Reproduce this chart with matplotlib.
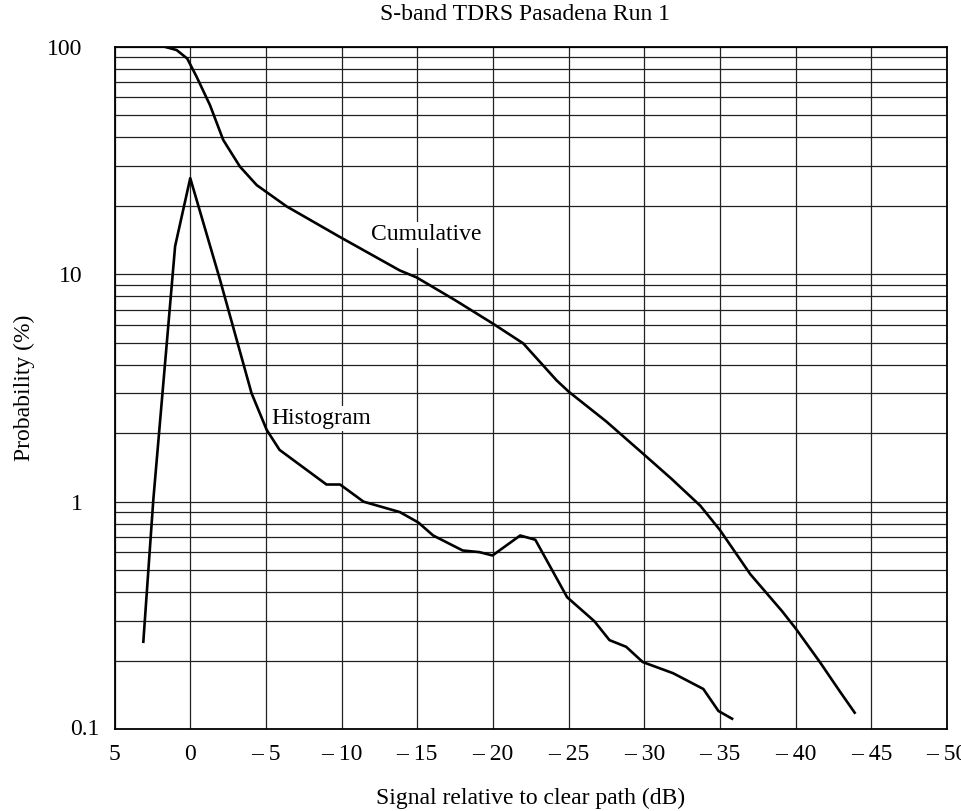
import matplotlib
matplotlib.use("Agg")
import matplotlib.pyplot as plt
from matplotlib.ticker import FixedLocator, NullFormatter

plt.rcParams['font.family'] = ['Liberation Serif', 'DejaVu Serif']

# Cumulative distribution (dB, %)
cum_x = [1.62, 0.9, 0.2, -0.42, -1.3, -2.18, -3.28, -4.39, -6.37, -9.89,
         -13.85, -14.95, -17.5, -20.0, -22.0, -24.2, -25.0, -27.5, -29.9, -31.8,
         -33.7, -35.0, -37.0, -39.1, -40.0, -41.6, -42.9, -43.9]
cum_y = [100, 97, 89, 74, 55.6, 39, 29.8, 24.7, 19.9, 14.6,
         10.4, 9.7, 7.7, 6.07, 4.97, 3.42, 3.05, 2.25, 1.63, 1.26,
         0.96, 0.75, 0.48, 0.33, 0.277, 0.197, 0.147, 0.118]

# Histogram (dB, %)
hist_x = [3.1, 2.44, 1.0, 0.0, -1.96, -4.05, -5.05, -5.9, -9.0, -9.9, -11.45,
          -13.85, -15.07, -16.05, -18.0, -19.1, -19.97, -21.8, -22.8, -24.9,
          -26.7, -27.7, -28.8, -29.9, -31.9, -33.9, -34.9, -35.8]
hist_y = [0.242, 1.02, 13.3, 26.5, 9.5, 3.0, 2.07, 1.69, 1.19, 1.19, 1.0,
          0.90, 0.81, 0.71, 0.61, 0.60, 0.58, 0.71, 0.68, 0.38,
          0.298, 0.246, 0.23, 0.197, 0.176, 0.15, 0.12, 0.111]

x_ticks = [5, 0, -5, -10, -15, -20, -25, -30, -35, -40, -45, -50]
x_labels = ['5', '0', '\u2013 5', '\u2013 10', '\u2013 15', '\u2013 20', '\u2013 25',
            '\u2013 30', '\u2013 35', '\u2013 40', '\u2013 45', '\u2013 50']
y_ticks = [1, 10, 100]
y_labels = ['1', '10', '100']

fig = plt.figure(figsize=(9.62, 8.11), dpi=100)
ax = fig.add_axes([0.1191, 0.1011, 0.8653, 0.8409])

ax.set_yscale('log')
ax.set_xlim(5, -50)
ax.set_ylim(0.1, 100)

ax.plot(cum_x, cum_y, color='black', lw=1.9, solid_joinstyle='round')
ax.plot(hist_x, hist_y, color='black', lw=1.9, solid_joinstyle='round')

ax.set_xticks(x_ticks)
ax.set_xticklabels(x_labels)
ax.set_yticks(y_ticks)
ax.set_yticklabels(y_labels)
minors = [m * 10.0 ** e for e in (-1, 0, 1) for m in range(2, 10)]
ax.yaxis.set_minor_locator(FixedLocator(minors))
ax.yaxis.set_minor_formatter(NullFormatter())

ax.grid(True, which='both', axis='y', color='#222222', lw=0.9)
ax.grid(True, which='major', axis='x', color='#222222', lw=0.9)
ax.tick_params(axis='both', which='both', length=0, labelsize=17)
ax.tick_params(axis='x', pad=11)
ax.tick_params(axis='y', pad=23)
for s in ax.spines.values():
    s.set_linewidth(1.3)
    s.set_color('black')

# 0.1 label sits further right, next to the axis corner
ax.text(-0.018, 0.1, '0.1', transform=ax.get_yaxis_transform(), ha='right',
        va='center', fontsize=17)

ax.text(-15.6, 14.9, 'Cumulative', fontsize=17, ha='center', va='center',
        bbox=dict(facecolor='white', edgecolor='none', pad=1.5))
ax.text(-8.63, 2.33, 'Histogram', fontsize=17, ha='center', va='center',
        bbox=dict(facecolor='white', edgecolor='none', pad=1.5))

ax.text(0.493, 1.047, 'S-band TDRS Pasadena Run 1', transform=ax.transAxes,
        fontsize=17, ha='center', va='center')
ax.set_xlabel('Signal relative to clear path (dB)', fontsize=17, labelpad=16)
ax.set_ylabel('Probability (%)', fontsize=17, labelpad=9)

fig.savefig('out.png', dpi=100)
